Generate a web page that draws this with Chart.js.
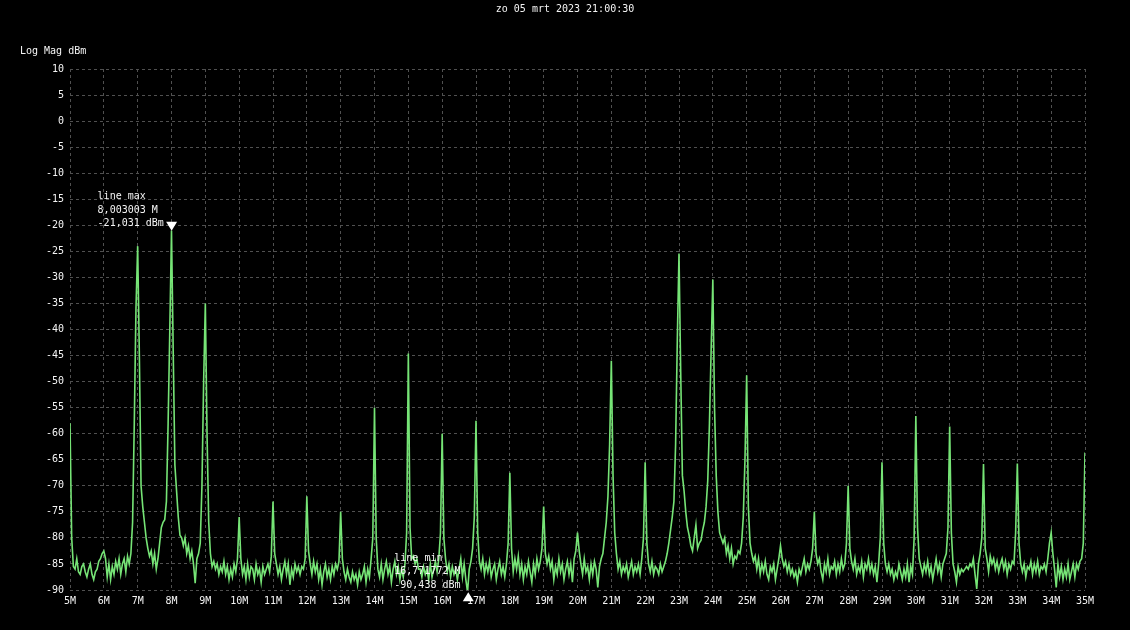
<!DOCTYPE html>
<html>
<head>
<meta charset="utf-8">
<title>Log Mag dBm</title>
<script src="https://cdn.jsdelivr.net/npm/chart.js@4.4.1/dist/chart.umd.min.js"></script>
<style>
  html, body { margin: 0; padding: 0; background: #000; }
  #wrap { width: 1130px; height: 630px; }
</style>
</head>
<body>
<div id="wrap"><canvas id="trace" width="1130" height="630"></canvas></div>
<script>
'use strict';

// sweep settings (MHz)
const sweepStart = 5;
const sweepStep = 0.05;

// measured levels (dBm), one row per MHz: n.00, n.05 ... n.95
const levels05to14 = [
  -58, -80, -85.5, -86, -84, -86.5, -87, -85.5, -85, -86.5, -87.5, -86, -85, -87, -88, -86.5, -86, -84.5, -84, -83,
  -82.5, -84, -87.5, -85, -88, -85.5, -87, -84.5, -86, -84, -87, -85, -84, -86.5, -83.5, -85, -83, -77, -58, -36,
  -24, -45, -70, -74, -77, -80, -82, -83.5, -82.5, -85, -83, -86, -84, -81, -78, -77, -76.5, -73, -58, -40,
  -21, -44, -66, -71, -76, -79.5, -80, -81.5, -80, -83, -81.5, -84, -82.5, -85, -88.7, -84, -83, -81, -70, -50,
  -35, -60, -77, -83, -85.5, -84.5, -86, -85, -87, -85.5, -86.5, -84.5, -87, -85.5, -88, -86, -87.5, -85, -86.5, -84,
  -76, -84, -87, -85.5, -88, -85, -87.5, -85.5, -86, -88, -85, -87, -86, -88.5, -85.5, -87, -86, -85, -86.5, -83.5,
  -73, -83, -85, -87, -85.5, -88, -86, -84.5, -87, -85, -89, -86, -87.5, -85, -86.5, -85.5, -87, -85.5, -86, -84,
  -72, -82.5, -85, -87, -84.5, -86.5, -85, -88, -86, -89, -86.5, -85, -87.5, -86, -88, -85.5, -87, -85, -86, -84.5,
  -75, -84, -86.5, -88, -86, -87.5, -88.5, -86.5, -88, -87, -89, -86.5, -88, -87, -85.5, -88.5, -86, -87.5, -84, -80,
  -55, -80, -86, -87.5, -85, -88, -86, -84.5, -87, -85.5, -88.5, -86, -84.5, -87, -85.5, -88, -86, -87.5, -85, -79
];
const levels15to24 = [
  -44.6, -78, -84, -83.5, -85, -84, -86, -86, -87.5, -85.5, -87, -86, -88, -85, -87.5, -86, -84.5, -86.5, -84, -79,
  -60, -80, -84, -86.5, -85, -87.5, -85.5, -87, -86, -88, -86, -84, -87.5, -85, -88, -90.4, -86, -84.5, -82, -76,
  -57.5, -79, -84.5, -86, -84, -87, -85, -86.5, -84.5, -87.5, -86, -85, -88, -86, -84.5, -87, -85.5, -87.5, -85, -81,
  -67.5, -82, -86.5, -84, -86, -83.5, -87, -85, -88, -85.5, -87, -84.5, -86.5, -88.5, -85, -87, -84, -86, -84.5, -82,
  -74, -83, -85, -83.5, -86, -84.5, -88, -85.5, -87, -84, -86.5, -85, -88, -86, -84.5, -87, -85, -88.5, -84, -82.5,
  -79, -82.5, -85, -87, -84, -86.5, -85.5, -88, -85, -87, -84.5, -86, -89.5, -85.5, -84, -83, -80, -77, -72, -62,
  -46, -68, -79, -83, -86, -84.5, -87, -85.5, -86.5, -85, -87.5, -86, -84.5, -87, -85.5, -86.5, -85, -87, -84, -80,
  -65.5, -81, -85, -86.5, -84.5, -87, -85.5, -86, -87, -85, -86.5, -85.5, -84.5, -83, -81, -78.5, -76, -73, -62, -42,
  -25.4, -48, -68, -71, -75, -78, -79.5, -81.5, -82.5, -80, -77.5, -82, -81, -80.5, -78.5, -77, -74, -69, -58, -44,
  -30.4, -55, -68, -75, -79, -80, -81, -80, -83, -81.5, -84, -82, -85, -83.5, -84, -82.5, -83, -81, -76, -65
];
const levels25to35 = [
  -48.8, -74, -81, -83, -84.5, -83.5, -86, -84, -87, -85, -86.5, -84.5, -87, -88, -85.5, -86.5, -85, -88, -86, -84,
  -81.5, -84, -85.5, -84.5, -86.5, -85, -87, -86, -87.5, -86.5, -88.5, -86, -87, -85.5, -84, -86.5, -85, -86, -84.5, -82,
  -75, -83, -85, -84, -86.5, -88, -85, -86.5, -84, -87, -85.5, -86, -84.5, -87, -85, -86.5, -84, -86, -85, -81,
  -70, -82, -84.5, -86, -84, -87, -85.5, -86.5, -84.5, -87.5, -85, -86, -84, -86.5, -85, -87, -85.5, -88.5, -85, -80,
  -65.5, -81, -85, -86.5, -85, -87, -86, -88, -86.5, -87.5, -85, -86.5, -88, -86, -87.5, -85, -88.5, -85.5, -87, -80,
  -56.6, -78, -84, -85.5, -87, -85, -86.5, -84.5, -87, -85.5, -88, -86, -84, -86.5, -85, -87.5, -85, -84, -83, -78,
  -58.6, -79, -85, -86.5, -88.5, -85.5, -87, -86, -86.5, -86, -85.5, -86, -85, -85.5, -84, -87, -89.8, -85, -83, -80,
  -65.8, -82, -84, -86.5, -83.5, -85, -84, -86, -84.5, -86.5, -85, -84, -86, -84.5, -87, -85, -86, -84.5, -85, -79,
  -65.7, -81, -85, -86.5, -85, -87.5, -85.5, -86, -84.5, -87, -85, -86.5, -84.5, -87, -85.5, -86, -85, -86.5, -84, -81,
  -79, -83, -86, -89.5, -85, -87.5, -85.5, -88, -86, -87.5, -85, -88, -86.5, -85, -87.5, -85, -86, -84.5, -84, -81,
  -63.6
];

const xTickLabels = ['5M', '6M', '7M', '8M', '9M', '10M', '11M', '12M', '13M', '14M', '15M', '16M',
  '17M', '18M', '19M', '20M', '21M', '22M', '23M', '24M', '25M', '26M', '27M', '28M', '29M', '30M',
  '31M', '32M', '33M', '34M', '35M'];

// markers
const markerNames = ['line max', 'line min'];
const markerFreqs = [8.003003, 16.771772];
const markerLevels = [-21.031, -90.438];

const titleText = 'zo 05 mrt 2023 21:00:30';
const yAxisTitle = 'Log Mag dBm';

const monoFont = "'DejaVu Sans Mono', 'Liberation Mono', monospace";
const textColor = '#f4f4f4';
const gridColor = '#505050';

const levels = levels05to14.concat(levels15to24, levels25to35);
const points = levels.map((v, i) => ({ x: Math.round((sweepStart + i * sweepStep) * 100) / 100, y: v }));

const overlay = {
  id: 'overlay',
  beforeDraw(chart) {
    const ctx = chart.ctx;
    ctx.save();
    ctx.fillStyle = '#000';
    ctx.fillRect(0, 0, chart.width, chart.height);
    ctx.restore();
  },
  afterDatasetsDraw(chart) {
    const ctx = chart.ctx;
    const xs = chart.scales.x, ys = chart.scales.y;
    ctx.save();
    ctx.font = '10px ' + monoFont;
    ctx.fillStyle = textColor;
    ctx.textBaseline = 'middle';
    ctx.textAlign = 'center';
    ctx.fillText(titleText, chart.width / 2, 9);
    ctx.textAlign = 'left';
    ctx.fillText(yAxisTitle, 20, 51);

    for (let i = 0; i < markerNames.length; i++) {
      const px = xs.getPixelForValue(markerFreqs[i]);
      const py = ys.getPixelForValue(markerLevels[i]);
      // triangle: pointing down onto a max, up onto a min
      const dir = markerLevels[i] === Math.max(...markerLevels) ? -1 : 1;
      ctx.beginPath();
      ctx.moveTo(px, py);
      ctx.lineTo(px - 5.5, py + dir * 9);
      ctx.lineTo(px + 5.5, py + dir * 9);
      ctx.closePath();
      ctx.fillStyle = '#ffffff';
      ctx.fill();

      const lines = [
        markerNames[i],
        markerFreqs[i].toFixed(6).replace('.', ',') + ' M',
        markerLevels[i].toFixed(3).replace('.', ',') + ' dBm'
      ];
      ctx.fillStyle = textColor;
      ctx.textAlign = 'left';
      for (let k = 0; k < lines.length; k++) {
        ctx.fillText(lines[k], px - 74, py - 7 - (lines.length - 1 - k) * 13.5);
      }
    }
    ctx.restore();
  }
};

const traceConfig = {
  type: 'line',
  data: {
    datasets: [
      {
        label: 'Log Mag',
        data: points,
        borderColor: 'rgb(118, 228, 118)',
        borderWidth: 1.6,
        pointRadius: 0,
        tension: 0,
        fill: false,
      },
    ],
  },
  options: {
    responsive: false,
    animation: false,
    devicePixelRatio: 1,
    layout: { padding: { top: 69, right: 45, left: 0, bottom: 0 } },
    plugins: {
      legend: { display: false },
      tooltip: { enabled: false },
      title: { display: false },
    },
    scales: {
      x: {
        type: 'linear',
        min: 5,
        max: 35,
        afterFit: (s) => { s.height = 40; },
        ticks: {
          stepSize: 1,
          autoSkip: false,
          maxRotation: 0,
          padding: 5,
          color: textColor,
          font: { family: monoFont, size: 10 },
          callback: (v, i) => xTickLabels[i],
        },
        grid: { color: gridColor, lineWidth: 1, drawTicks: false },
        border: { display: false, dash: [3, 3] },
      },
      y: {
        type: 'linear',
        min: -90,
        max: 10,
        afterFit: (s) => { s.width = 70; },
        ticks: {
          stepSize: 5,
          padding: 6,
          color: textColor,
          font: { family: monoFont, size: 10 },
        },
        grid: { color: gridColor, lineWidth: 1, drawTicks: false },
        border: { display: false, dash: [3, 3] },
      },
    },
  },
  plugins: [overlay],
};

window.traceChart = new Chart(document.getElementById('trace'), traceConfig);
</script>
</body>
</html>
